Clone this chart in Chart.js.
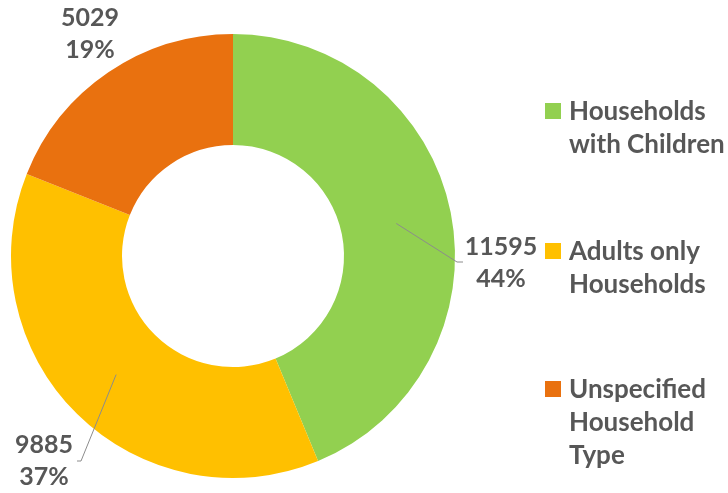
<!DOCTYPE html>
<html>
<head>
<meta charset="utf-8">
<script src="https://cdn.jsdelivr.net/npm/chart.js@4/dist/chart.umd.min.js"></script>
<style>
  html, body { margin: 0; padding: 0; background: #fff; }
  #wrap { position: relative; width: 728px; height: 493px; }
</style>
</head>
<body>
<div id="wrap"><canvas id="householdChart" width="728" height="493"></canvas></div>
<script>
const categories = [
  ['Households', 'with Children'],
  ['Adults only', 'Households'],
  ['Unspecified', 'Household', 'Type']
];
const values = [11595, 9885, 5029];
const percentLabels = ['44%', '37%', '19%'];
const colors = ['#92D050', '#FFC000', '#E9710F'];

const textColor = '#575757';
const labelFont = 'bold 25px Lato';
const legendFont = 'bold 26px Lato';

// where each data label sits, relative to the doughnut centre
const labelPlacement = [
  { tx: 268, ty: -9, line: [[224, 6], [230, 6]] },
  { tx: -189, ty: 189, line: [[-152, 205], [-156, 205]] },
  { tx: -143, ty: -238, line: null }
];

const labelsPlugin = {
  id: 'labelsPlugin',
  afterDatasetsDraw(chart) {
    const ctx = chart.ctx;
    const meta = chart.getDatasetMeta(0);
    ctx.save();
    meta.data.forEach((arc, i) => {
      const cx = arc.x, cy = arc.y;
      const p = labelPlacement[i];
      if (p.line) {
        const mid = arc.tooltipPosition();
        ctx.strokeStyle = '#8c8c8c';
        ctx.lineWidth = 1;
        ctx.beginPath();
        ctx.moveTo(mid.x, mid.y);
        p.line.forEach(pt => ctx.lineTo(cx + pt[0], cy + pt[1]));
        ctx.stroke();
      }
      ctx.fillStyle = textColor;
      ctx.font = labelFont;
      ctx.textAlign = 'center';
      ctx.textBaseline = 'middle';
      ctx.fillText(String(values[i]), cx + p.tx, cy + p.ty);
      ctx.fillText(percentLabels[i], cx + p.tx, cy + p.ty + 32);
    });

    // legend
    const legendTop = [112, 252, 390];
    categories.forEach((lines, i) => {
      ctx.fillStyle = colors[i];
      ctx.fillRect(545, legendTop[i] - 9, 16, 16);
      ctx.fillStyle = textColor;
      ctx.font = legendFont;
      ctx.textAlign = 'left';
      ctx.textBaseline = 'middle';
      lines.forEach((t, j) => ctx.fillText(t, 569, legendTop[i] + j * 33));
    });
    ctx.restore();
  }
};

new Chart(document.getElementById('householdChart'), {
  type: 'doughnut',
  data: {
    labels: categories.map(c => c.join(' ')),
    datasets: [{
      data: values,
      backgroundColor: colors,
      borderWidth: 0
    }]
  },
  plugins: [labelsPlugin],
  options: {
    responsive: false,
    animation: false,
    cutout: '50%',
    layout: { padding: { left: 11, top: 34, right: 273, bottom: 15 } },
    plugins: {
      legend: { display: false },
      tooltip: { enabled: false }
    }
  }
});
</script>
</body>
</html>
